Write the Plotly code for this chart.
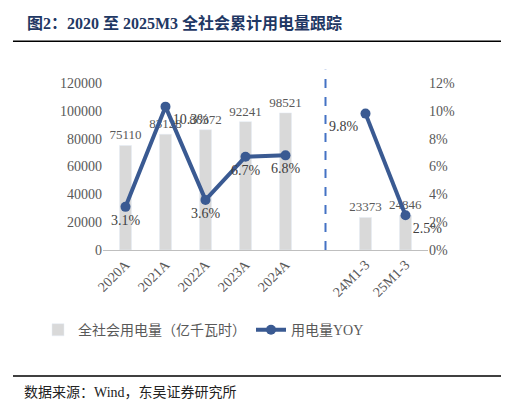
import plotly.graph_objects as go

categories = ["2020A", "2021A", "2022A", "2023A", "2024A", " ", "24M1-3", "25M1-3"]
consumption = [75110, 83128, 86372, 92241, 98521, None, 23373, 24846]
yoy = [3.1, 10.3, 3.6, 6.7, 6.8, None, 9.8, 2.5]
yoy_pos = ["bottom center", "bottom right", "bottom center", "bottom center",
           "bottom center", "bottom center", "bottom left", "bottom right"]

serif = "Liberation Serif, Noto Sans CJK SC"
blue = "#3a5a92"

fig = go.Figure()
fig.add_trace(go.Bar(
    x=categories, y=consumption, name="全社会用电量（亿千瓦时）",
    marker_color="#d9d9d9", width=0.3,
    text=[str(v) if v else "" for v in consumption], textposition="outside",
    constraintext="none",
    textfont=dict(color="#595959", size=13, family=serif), cliponaxis=False,
))
fig.add_trace(go.Scatter(
    x=categories, y=yoy, name="用电量YOY", yaxis="y2", mode="lines+markers+text",
    line=dict(color=blue, width=4), marker=dict(size=10, color=blue),
    text=[f"{v}%" if v is not None else "" for v in yoy], textposition=yoy_pos,
    textfont=dict(color="#404040", size=14, family=serif), connectgaps=False,
    cliponaxis=False,
))

fig.add_shape(type="line", xref="x", yref="paper", x0=5, x1=5, y0=0, y1=1.08,
              line=dict(color="#4472c4", width=2, dash="dash"))

fig.update_layout(
    width=509, height=402, plot_bgcolor="white", paper_bgcolor="white",
    margin=dict(l=95, r=89, t=75, b=160),
    font=dict(family=serif, color="#595959", size=14),
    bargap=0.5,
    xaxis=dict(type="category", tickangle=-45, showline=True, linecolor="#bfbfbf",
               ticks="", tickfont=dict(size=14)),
    yaxis=dict(range=[0, 120000], dtick=20000, tickformat="d", showgrid=False,
               showline=False, tickfont=dict(size=14)),
    yaxis2=dict(range=[0, 12], dtick=2, overlaying="y", side="right", showgrid=False,
                ticksuffix="%", tickfont=dict(size=14)),
    legend=dict(orientation="h", x=-0.2, xanchor="left", y=-0.48, yanchor="middle",
                font=dict(size=14, color="#595959"), entrywidthmode="pixels"),
    showlegend=True,
)

fig.add_annotation(xref="paper", yref="paper", x=-0.24, y=1.36, xanchor="left",
                   yanchor="middle", showarrow=False,
                   text="<b>图2：2020 至 2025M3 全社会累计用电量跟踪</b>",
                   font=dict(size=16, color="#1f3864", family=serif))
fig.add_shape(type="line", xref="paper", yref="paper", x0=-0.277, x1=1.255,
              y0=1.25, y1=1.25, line=dict(color="black", width=1.5))
fig.add_shape(type="line", xref="paper", yref="paper", x0=-0.277, x1=1.255,
              y0=-0.754, y1=-0.754, line=dict(color="black", width=1.5))
fig.add_annotation(xref="paper", yref="paper", x=-0.25, y=-0.856, xanchor="left",
                   yanchor="middle", showarrow=False,
                   text="数据来源：Wind，东吴证券研究所",
                   font=dict(size=14, color="#222222", family=serif))

fig.write_html("out.html")
